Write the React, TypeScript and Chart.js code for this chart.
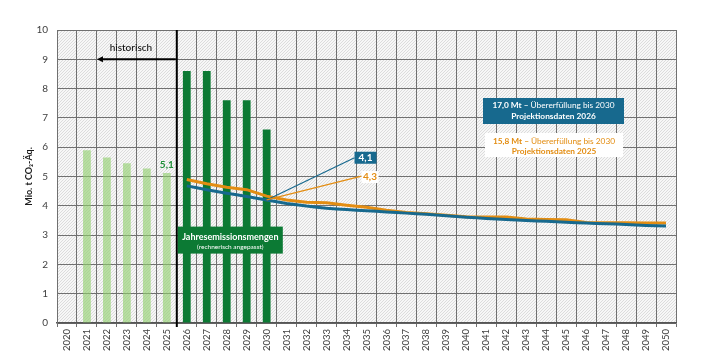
import React, { useEffect, useRef } from "react";
import { Chart, registerables } from "chart.js";

Chart.register(...registerables);

const years = [
  "2020", "2021", "2022", "2023", "2024", "2025", "2026", "2027", "2028", "2029", "2030",
  "2031", "2032", "2033", "2034", "2035", "2036", "2037", "2038", "2039", "2040",
  "2041", "2042", "2043", "2044", "2045", "2046", "2047", "2048", "2049", "2050",
];

const N = null;
// historical emissions (light green)
const historic = [N, 5.9, 5.65, 5.45, 5.27, 5.12, N, N, N, N, N, N, N, N, N, N, N, N, N, N, N, N, N, N, N, N, N, N, N, N, N];
// annual emission budgets (dark green)
const annualBudget = [N, N, N, N, N, N, 8.6, 8.6, 7.6, 7.6, 6.6, N, N, N, N, N, N, N, N, N, N, N, N, N, N, N, N, N, N, N, N];
// Projektionsdaten 2025 (orange)
const proj2025 = [N, N, N, N, N, N, 4.9, 4.75, 4.63, 4.55, 4.33, 4.2, 4.12, 4.1, 4.02, 3.95, 3.85, 3.77, 3.73, 3.68, 3.63, 3.62, 3.62, 3.55, 3.53, 3.52, 3.43, 3.42, 3.42, 3.41, 3.41];
// Projektionsdaten 2026 (blue)
const proj2026 = [N, N, N, N, N, N, 4.68, 4.55, 4.43, 4.32, 4.2, 4.08, 3.99, 3.92, 3.87, 3.83, 3.79, 3.75, 3.71, 3.66, 3.61, 3.57, 3.53, 3.5, 3.47, 3.44, 3.41, 3.39, 3.36, 3.33, 3.31];

const yTicks = [0, 1, 2, 3, 4, 5, 6, 7, 8, 9, 10];

const FONT = "Lato, 'Open Sans', sans-serif";
const BLUE = "#17698e";
const ORANGE = "#e38d12";
const DGREEN = "#0c7a34";
const LGREEN = "rgba(143,207,108,0.62)";
const GRID = "#707070";

function makeHatch(ctx: CanvasRenderingContext2D) {
  const c = document.createElement("canvas");
  c.width = 3;
  c.height = 3;
  const t = c.getContext("2d")!;
  const img = t.createImageData(3, 3);
  for (let yy = 0; yy < 3; yy++) {
    for (let xx = 0; xx < 3; xx++) {
      const idx = (yy * 3 + xx) * 4;
      const on = xx === 2 - yy;
      const v = on ? 220 : 247;
      img.data[idx] = v;
      img.data[idx + 1] = v;
      img.data[idx + 2] = v;
      img.data[idx + 3] = 255;
    }
  }
  t.putImageData(img, 0, 0);
  return ctx.createPattern(c, "repeat");
}

const bgPlugin = {
  id: "bgHatch",
  beforeDraw(chart: any) {
    const { ctx, chartArea } = chart;
    ctx.save();
    ctx.fillStyle = "#ffffff";
    ctx.fillRect(0, 0, chart.width, chart.height);
    const pat = makeHatch(ctx);
    if (pat) {
      ctx.fillStyle = pat;
      ctx.fillRect(chartArea.left, chartArea.top, chartArea.right - chartArea.left, chartArea.bottom - chartArea.top);
    }
    ctx.restore();
  },
};

function drawParts(ctx: CanvasRenderingContext2D, parts: { t: string; f: string }[], cx: number, cy: number, color: string) {
  let total = 0;
  const widths = parts.map((p) => {
    ctx.font = p.f;
    const w = ctx.measureText(p.t).width;
    total += w;
    return w;
  });
  let x = cx - total / 2;
  ctx.fillStyle = color;
  ctx.textAlign = "left";
  ctx.textBaseline = "middle";
  parts.forEach((p, i) => {
    ctx.font = p.f;
    ctx.fillText(p.t, x, cy);
    x += widths[i];
  });
}

const overlayPlugin = {
  id: "overlay",
  afterDatasetsDraw(chart: any) {
    const { ctx, chartArea } = chart;
    const xs = chart.scales.x;
    const ys = chart.scales.y;
    const px = (i: number) => xs.getPixelForValue(i);
    const py = (v: number) => ys.getPixelForValue(v);
    ctx.save();

    // divider historic / future
    const divX = px(5.5);
    ctx.strokeStyle = "#000";
    ctx.lineWidth = 2;
    ctx.beginPath();
    ctx.moveTo(divX, chartArea.top);
    ctx.lineTo(divX, chartArea.bottom + 4);
    ctx.stroke();

    // arrow "historisch"
    const ay = py(9);
    const tipX = px(1.5);
    ctx.lineWidth = 2;
    ctx.beginPath();
    ctx.moveTo(divX - 1, ay);
    ctx.lineTo(tipX + 4, ay);
    ctx.stroke();
    ctx.fillStyle = "#000";
    ctx.beginPath();
    ctx.moveTo(tipX, ay);
    ctx.lineTo(tipX + 6, ay - 3);
    ctx.lineTo(tipX + 6, ay + 3);
    ctx.closePath();
    ctx.fill();
    ctx.font = `500 10px ${FONT}`;
    ctx.fillStyle = "#111";
    ctx.textAlign = "center";
    ctx.textBaseline = "middle";
    ctx.fillText("historisch", px(3.2), py(9.4));

    // 5,1 label
    ctx.font = `bold 10px ${FONT}`;
    ctx.fillStyle = "#1f8f38";
    ctx.fillText("5,1", px(5), py(historic[5] as number) - 8);

    // thin connector lines from 2030
    const sx = px(10);
    const sy = py(proj2026[10] as number);
    const bX = px(14.4), bY = py(5.64);
    const oX = px(14.75), oY = py(4.98);
    ctx.lineWidth = 1.2;
    ctx.strokeStyle = BLUE;
    ctx.beginPath();
    ctx.moveTo(sx, sy);
    ctx.lineTo(bX, bY);
    ctx.stroke();
    ctx.strokeStyle = ORANGE;
    ctx.beginPath();
    ctx.moveTo(sx, sy);
    ctx.lineTo(oX, oY - 1);
    ctx.stroke();

    // value boxes
    ctx.fillStyle = BLUE;
    ctx.fillRect(bX, bY - 6, 22, 12);
    ctx.font = `bold 10px ${FONT}`;
    ctx.fillStyle = "#fff";
    ctx.textAlign = "center";
    ctx.fillText("4,1", bX + 11, bY);
    ctx.fillStyle = "#fff";
    ctx.fillRect(oX, oY - 6, 17, 12);
    ctx.fillStyle = ORANGE;
    ctx.fillText("4,3", oX + 8.5, oY);

    // Jahresemissionsmengen box
    const jx = px(5.55), jy = py(3.29);
    ctx.fillStyle = DGREEN;
    ctx.fillRect(jx, jy, 105, 27);
    ctx.fillStyle = "#fff";
    ctx.font = `bold 9px ${FONT}`;
    ctx.fillText("Jahresemissionsmengen", jx + 52.5, jy + 10.5);
    ctx.font = `6.5px ${FONT}`;
    ctx.fillText("(rechnerisch angepasst)", jx + 52.5, jy + 20.5);

    // legend boxes
    const lx = 483, ly = 98;
    ctx.fillStyle = BLUE;
    ctx.fillRect(lx, ly, 141, 26);
    drawParts(ctx, [
      { t: "17,0 Mt \u2013 ", f: `bold 8.3px ${FONT}` },
      { t: "\u00dcbererf\u00fcllung bis 2030", f: `8.3px ${FONT}` },
    ], lx + 70.5, ly + 7.5, "#fff");
    drawParts(ctx, [{ t: "Projektionsdaten 2026", f: `bold 8.3px ${FONT}` }], lx + 70.5, ly + 18, "#fff");

    const ox = 485, oy = 133;
    ctx.fillStyle = "#fff";
    ctx.fillRect(ox, oy, 138, 24);
    drawParts(ctx, [
      { t: "15,8 Mt \u2013 ", f: `bold 8.3px ${FONT}` },
      { t: "\u00dcbererf\u00fcllung bis 2030", f: `8.3px ${FONT}` },
    ], ox + 69, oy + 8.5, ORANGE);
    drawParts(ctx, [{ t: "Projektionsdaten 2025", f: `bold 8.3px ${FONT}` }], ox + 69, oy + 18.5, ORANGE);

    ctx.restore();
  },
};

export default function App() {
  const ref = useRef<HTMLCanvasElement | null>(null);
  useEffect(() => {
    const canvas = ref.current;
    if (!canvas) return;
    const chart = new Chart(canvas, {
      type: "bar",
      data: {
        labels: years,
        datasets: [
          {
            type: "line",
            label: "Projektionsdaten 2026",
            data: proj2026,
            borderColor: BLUE,
            borderWidth: 3,
            pointRadius: 0,
            tension: 0.1,
          } as any,
          {
            type: "line",
            label: "Projektionsdaten 2025",
            data: proj2025,
            borderColor: ORANGE,
            borderWidth: 3,
            pointRadius: 0,
            tension: 0,
          } as any,
          {
            type: "bar",
            label: "Jahresemissionsmengen",
            data: annualBudget,
            backgroundColor: DGREEN,
            grouped: false,
            categoryPercentage: 1,
            barPercentage: 0.39,
          } as any,
          {
            type: "bar",
            label: "historisch",
            data: historic,
            backgroundColor: LGREEN,
            grouped: false,
            categoryPercentage: 1,
            barPercentage: 0.39,
          } as any,
        ],
      },
      options: {
        responsive: false,
        animation: false,
        layout: { padding: { top: 30, right: 31, left: 0, bottom: 0 } },
        plugins: {
          legend: { display: false },
          tooltip: { enabled: false },
          title: { display: false },
        },
        scales: {
          x: {
            type: "category",
            offset: true,
            grid: {
              offset: true,
              color: GRID,
              lineWidth: 1,
              tickLength: 4,
              drawTicks: true,
            },
            border: { color: "#555", width: 1.5 },
            ticks: {
              maxRotation: 90,
              minRotation: 90,
              autoSkip: false,
              padding: 2,
              color: "#404040",
              font: { family: FONT, size: 9.5 },
            },
            afterFit: (s: any) => {
              s.height = 31;
            },
          },
          y: {
            min: 0,
            max: 10,
            afterBuildTicks: (s: any) => {
              s.ticks = yTicks.map((v) => ({ value: v }));
            },
            grid: { color: GRID, lineWidth: 1, drawTicks: false },
            border: { color: GRID, width: 1 },
            ticks: {
              padding: 9,
              color: "#404040",
              font: { family: FONT, size: 10 },
            },
            title: {
              display: true,
              text: "Mio. t CO\u2082-\u00c4q.",
              color: "#1a1a1a",
              font: { family: FONT, size: 9, weight: "bold" },
              padding: { top: 24, bottom: 0 },
            },
            afterFit: (s: any) => {
              s.width = 57;
            },
          },
        },
      },
      plugins: [bgPlugin, overlayPlugin],
    });
    return () => chart.destroy();
  }, []);
  return (
    <div style={{ position: "fixed", left: 0, top: 0, width: 707, height: 354 }}>
      <canvas ref={ref} width={707} height={354} style={{ display: "block", width: 707, height: 354 }} />
    </div>
  );
}
